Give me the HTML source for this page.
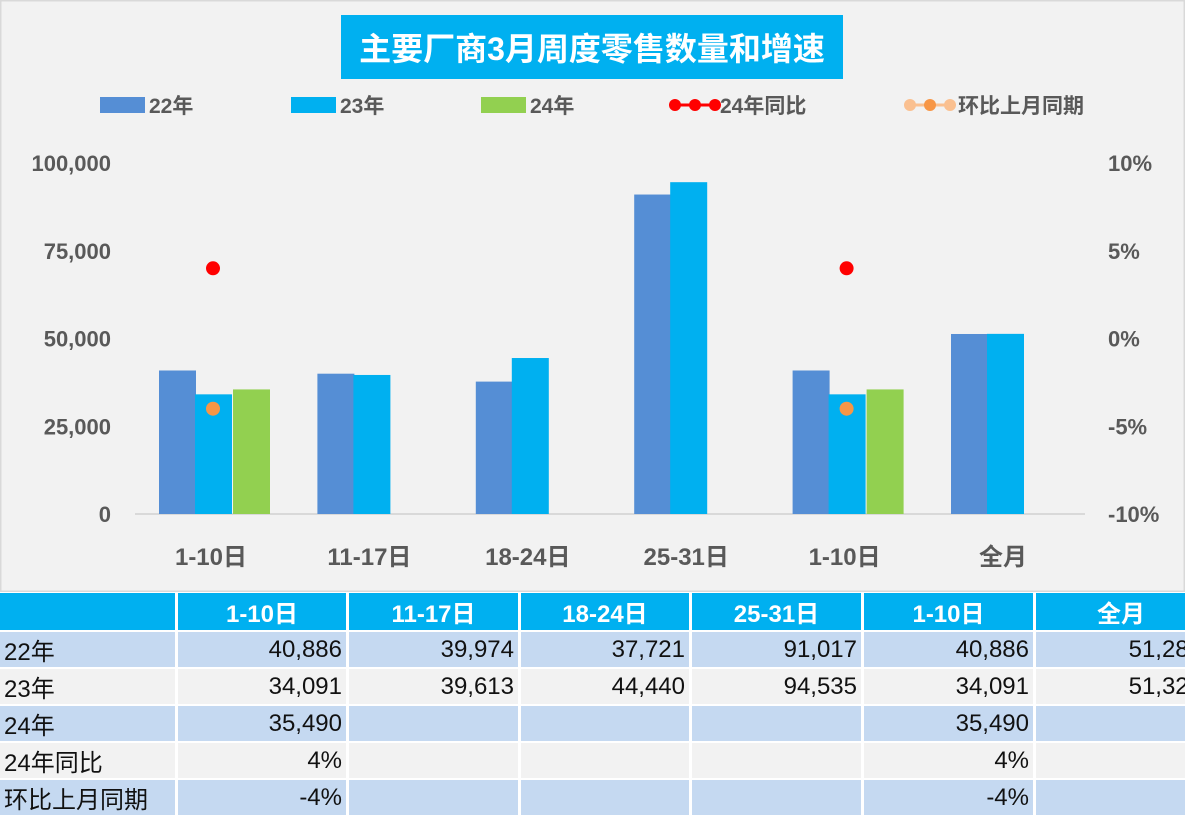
<!DOCTYPE html>
<html><head><meta charset="utf-8"><style>
body{margin:0;width:1185px;height:819px;overflow:hidden;background:#fff;font-family:"Liberation Sans","Noto Sans CJK SC",sans-serif;}
#chart{position:absolute;left:0;top:0;width:1185px;height:592px;}
table{position:absolute;left:0;top:593px;border-collapse:separate;border-spacing:3px 0;margin-left:-3px;width:1191px;table-layout:fixed;}
td{height:35px;padding:0 4px;font-size:24px;color:#111;border-bottom:2px solid #fff;white-space:nowrap;overflow:hidden;}
td.n{text-align:right;}
tr.h td{background:#00b0f0;color:#fff;font-weight:bold;text-align:center;height:37px;}
tr.a td{background:#c5d9f1;}
tr.b td{background:#f2f2f2;}
</style></head><body>
<svg id="chart" width="1185" height="592" xmlns="http://www.w3.org/2000/svg" font-family="Liberation Sans, Noto Sans CJK SC, sans-serif">
<rect x="0" y="0" width="1185" height="592" fill="#f2f2f2" stroke="#d9d9d9" stroke-width="3"/>
<rect x="341" y="15" width="502" height="64" fill="#00b0f0"/>
<text x="592" y="60" text-anchor="middle" font-size="32" font-weight="bold" fill="#fff">主要厂商3月周度零售数量和增速</text>
<g id="legend" font-size="21" font-weight="bold" fill="#595959">
<rect x="100" y="97" width="45" height="16" fill="#558ed5"/><text x="149" y="113">22年</text>
<rect x="291" y="97" width="45" height="16" fill="#00b0f0"/><text x="340" y="113">23年</text>
<rect x="481" y="97" width="45" height="16" fill="#92d050"/><text x="530" y="113">24年</text>
<g><line x1="670" y1="105" x2="720" y2="105" stroke="#ff0000" stroke-width="3"/><circle cx="675" cy="105" r="6" fill="#ff0000"/><circle cx="695" cy="105" r="6" fill="#ff0000"/><circle cx="715" cy="105" r="6" fill="#ff0000"/></g>
<text x="720" y="113">24年同比</text>
<g><line x1="905" y1="105" x2="955" y2="105" stroke="#fac090" stroke-width="3"/><circle cx="910" cy="105" r="6" fill="#fac090"/><circle cx="930" cy="105" r="6" fill="#f79646"/><circle cx="950" cy="105" r="6" fill="#fac090"/></g>
<text x="958" y="113">环比上月同期</text>
</g>
<g id="axes"></g>
<g id="bars"></g>
<g id="dots"></g>
</svg>
<table>
<colgroup><col style="width:175px"><col style="width:168px"><col style="width:169px"><col style="width:168px"><col style="width:169px"><col style="width:169px"><col style="width:170px"></colgroup>
<tr class="h"><td></td><td>1-10日</td><td>11-17日</td><td>18-24日</td><td>25-31日</td><td>1-10日</td><td>全月</td></tr>
<tr class="a"><td>22年</td><td class="n">40,886</td><td class="n">39,974</td><td class="n">37,721</td><td class="n">91,017</td><td class="n">40,886</td><td class="n">51,285</td></tr>
<tr class="b"><td>23年</td><td class="n">34,091</td><td class="n">39,613</td><td class="n">44,440</td><td class="n">94,535</td><td class="n">34,091</td><td class="n">51,323</td></tr>
<tr class="a"><td>24年</td><td class="n">35,490</td><td></td><td></td><td></td><td class="n">35,490</td><td></td></tr>
<tr class="b"><td>24年同比</td><td class="n">4%</td><td></td><td></td><td></td><td class="n">4%</td><td></td></tr>
<tr class="a"><td>环比上月同期</td><td class="n">-4%</td><td></td><td></td><td></td><td class="n">-4%</td><td></td></tr>
</table>
<script>
const categories=["1-10日","11-17日","18-24日","25-31日","1-10日","全月"];
const s22=[40886,39974,37721,91017,40886,51285];
const s23=[34091,39613,44440,94535,34091,51323];
const s24=[35490,null,null,null,35490,null];
const yoy=[0.04,null,null,null,0.04,null];
const mom=[-0.04,null,null,null,-0.04,null];
const leftTicks=[0,25000,50000,75000,100000];
const rightTicks=[-0.10,-0.05,0,0.05,0.10];
const NS="http://www.w3.org/2000/svg";
const y0=514,y1=163;
const yL=v=>y0-(v/100000)*(y0-y1);
const yR=v=>y0-((v+0.10)/0.20)*(y0-y1);
const xC=i=>213+i*158.4;
function mk(tag,attrs,parent){const e=document.createElementNS(NS,tag);for(const k in attrs)e.setAttribute(k,attrs[k]);parent.appendChild(e);return e;}
const ax=document.getElementById('axes'),bars=document.getElementById('bars'),dots=document.getElementById('dots');
let l=mk('line',{x1:135,x2:1085,y1:y0,y2:y0,stroke:'#d9d9d9','stroke-width':2},ax);


leftTicks.forEach(v=>{const t=mk('text',{x:111,y:yL(v)+8,'text-anchor':'end','font-size':22,'font-weight':'bold',fill:'#595959'},ax);t.textContent=v.toLocaleString('en-US');

});
rightTicks.forEach(v=>{const t=mk('text',{x:1108,y:yR(v)+8,'font-size':22,'font-weight':'bold',fill:'#595959'},ax);t.textContent=Math.round(v*100)+'%';

});
categories.forEach((c,i)=>{const t=mk('text',{x:xC(i)-2,y:565,'text-anchor':'middle','font-size':24,'font-weight':'bold',fill:'#595959'},ax);t.textContent=c;

});
const series=[[s22,'#558ed5',-36,'bar-22'],[s23,'#00b0f0',0,'bar-23'],[s24,'#92d050',38,'bar-24']];
series.forEach(([arr,col,off,nm])=>{arr.forEach((v,i)=>{if(v==null)return;const x=xC(i)+off-18;const r=mk('rect',{x:x,y:yL(v),width:37,height:y0-yL(v),fill:col},bars);

});});
yoy.forEach((v,i)=>{if(v==null)return;const c=mk('circle',{cx:xC(i),cy:yR(v),r:7,fill:'#ff0000'},dots);

});
mom.forEach((v,i)=>{if(v==null)return;const c=mk('circle',{cx:xC(i),cy:yR(v),r:7,fill:'#f79646'},dots);

});
</script>
</body></html>
